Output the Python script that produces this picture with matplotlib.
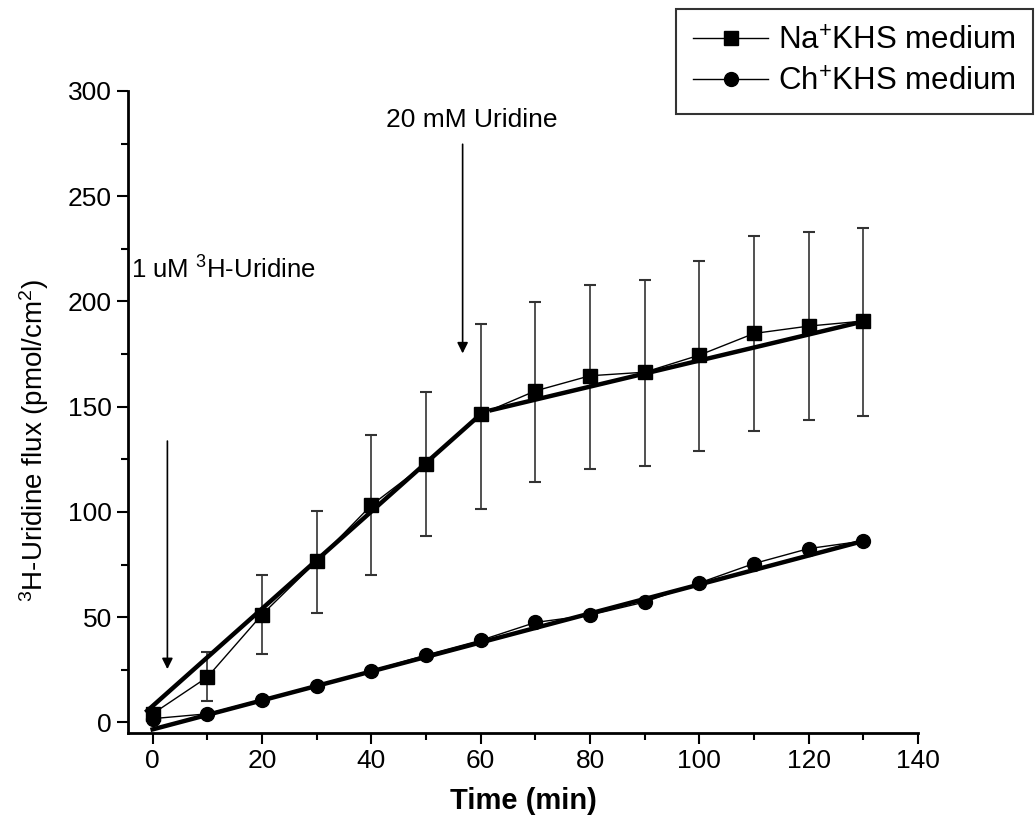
import matplotlib
matplotlib.use("Agg")
import matplotlib.pyplot as plt
from matplotlib.ticker import MultipleLocator

plt.rcParams['font.family'] = ['Liberation Sans', 'DejaVu Sans']
plt.rcParams['mathtext.fontset'] = 'custom'
plt.rcParams['mathtext.rm'] = 'Liberation Sans'
plt.rcParams['mathtext.it'] = 'Liberation Sans:italic'
plt.rcParams['mathtext.bf'] = 'Liberation Sans:bold'

# tiempo (min)
tiempo = [0, 10, 20, 30, 40, 50, 60, 70, 80, 90, 100, 110, 120, 130]

# Na+ KHS medium
na_media = [4.1, 21.5, 51.2, 76.6, 103.2, 123.0, 146.4, 157.5, 164.7, 166.4, 174.5, 184.8, 188.3, 190.7]
na_sup = [4.1, 33.4, 70.0, 100.5, 136.5, 157.2, 189.4, 199.9, 208.0, 210.0, 219.4, 231.2, 232.8, 235.0]
na_inf = [4.1, 10.1, 32.3, 52.2, 70.0, 88.6, 101.6, 114.0, 120.3, 121.7, 129.0, 138.4, 143.6, 145.8]

# Ch+ KHS medium
ch_media = [1.8, 4.1, 10.8, 17.1, 24.5, 32.0, 39.0, 47.5, 51.0, 57.2, 66.3, 75.5, 82.6, 86.2]

# rectas de ajuste (extremos)
na_ajuste1_x = [-1, 60]
na_ajuste1_y = [5.5, 146.4]
na_ajuste2_x = [62, 130]
na_ajuste2_y = [148.4, 190.5]
ch_ajuste_x = [0, 130]
ch_ajuste_y = [-3.3, 86.2]

err_abajo = [m - i for m, i in zip(na_media, na_inf)]
err_arriba = [s - m for s, m in zip(na_sup, na_media)]

fig = plt.figure(figsize=(10.35, 8.27), dpi=100)
ax = fig.add_axes([0.1237, 0.1137, 0.887 - 0.1237, 0.890 - 0.1137])

ax.errorbar(tiempo, na_media, yerr=[err_abajo, err_arriba], fmt='none',
            ecolor='#333333', elinewidth=1.2, capsize=4.5, capthick=1.5, zorder=2)
ax.plot(na_ajuste1_x, na_ajuste1_y, color='black', lw=3.2, zorder=3)
ax.plot(na_ajuste2_x, na_ajuste2_y, color='black', lw=3.2, zorder=3)
ax.plot(ch_ajuste_x, ch_ajuste_y, color='black', lw=3.2, zorder=3)
ax.plot(tiempo, na_media, color='black', lw=1, marker='s', markersize=10,
        label=r'Na$^{+}$KHS medium', zorder=4)
ax.plot(tiempo, ch_media, color='black', lw=1, marker='o', markersize=10,
        label=r'Ch$^{+}$KHS medium', zorder=4)

ax.set_xlim(-4.5, 140)
ax.set_ylim(-5, 300)
ax.xaxis.set_major_locator(MultipleLocator(20))
ax.xaxis.set_minor_locator(MultipleLocator(10))
ax.yaxis.set_major_locator(MultipleLocator(50))
ax.yaxis.set_minor_locator(MultipleLocator(25))
ax.spines['top'].set_visible(False)
ax.spines['right'].set_visible(False)
ax.spines['left'].set_linewidth(2)
ax.spines['bottom'].set_linewidth(2)
ax.tick_params(which='major', direction='out', length=8, width=1.5, labelsize=19)
ax.tick_params(which='minor', direction='out', length=5, width=1.5)

ax.set_xlabel('Time (min)', fontsize=21, fontweight='bold', labelpad=10)
ax.set_ylabel(r'$^{3}$H-Uridine flux (pmol/cm$^{2}$)', fontsize=20)
ax.yaxis.set_label_coords(-0.098, 0.455)

ax.annotate('', xy=(2.7, 24), xytext=(2.7, 135),
            arrowprops=dict(arrowstyle='-|>', color='black', lw=1.2, mutation_scale=16))
ax.text(-4, 215, r'1 uM $^{3}$H-Uridine', fontsize=18.5, va='center', ha='left')
ax.annotate('', xy=(56.7, 174), xytext=(56.7, 276),
            arrowprops=dict(arrowstyle='-|>', color='black', lw=1.2, mutation_scale=16))
ax.text(42.6, 286, '20 mM Uridine', fontsize=19, va='center', ha='left')

leg = ax.legend(loc='upper left', bbox_to_anchor=(676 / 1035, 1 - 9 / 827),
                bbox_transform=fig.transFigure, fontsize=22.5, frameon=True,
                fancybox=False, edgecolor='black', handlelength=2.4,
                borderaxespad=0, borderpad=0.55, handletextpad=0.3, labelspacing=0.35)
leg.get_frame().set_linewidth(1.5)

fig.savefig('out.png', dpi=100)
